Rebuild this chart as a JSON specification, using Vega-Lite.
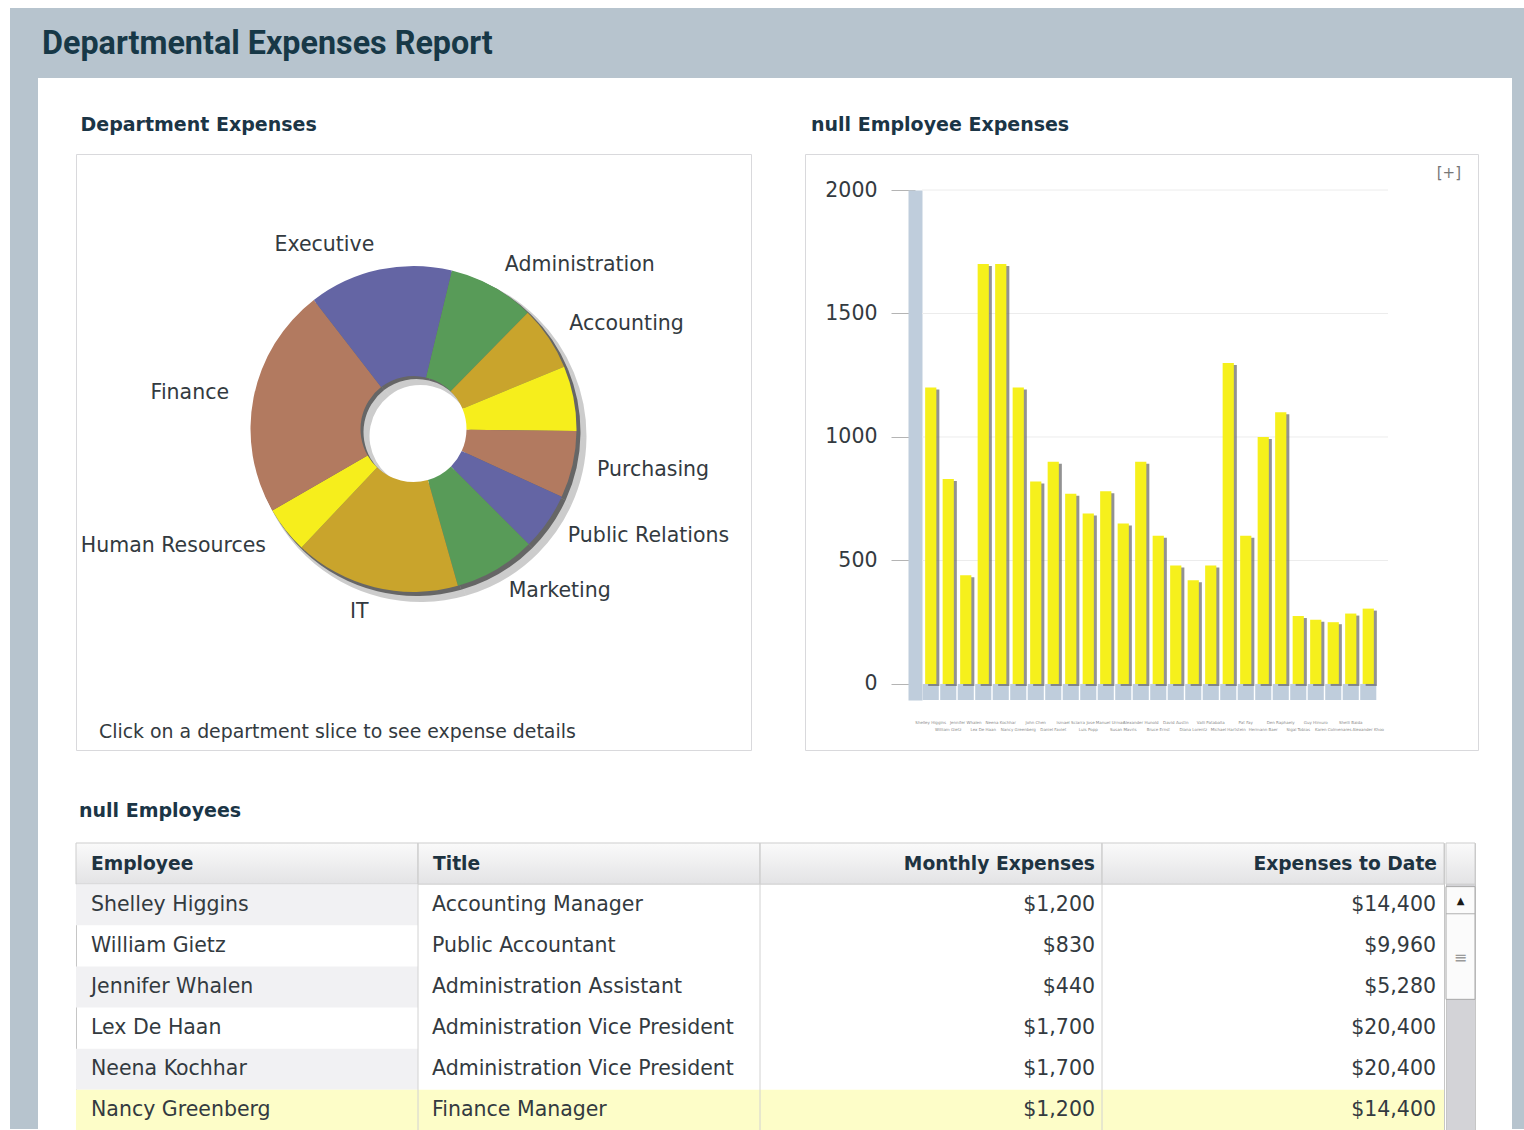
{
  "$schema": "https://vega.github.io/schema/vega-lite/v6.json",
  "usermeta": {"embedOptions": {"actions": false}},
  "background": "#ffffff",
  "padding": {"left": 10, "top": 8, "right": 0, "bottom": 0},
  "config": {"view": {"stroke": null}, "font": "DejaVu Sans"},
  "datasets": {
    "depts": [
      {"seq": 1, "dept": "Administration", "share": 30.9},
      {"seq": 2, "dept": "Accounting", "share": 23.0},
      {"seq": 3, "dept": "", "share": 23.2},
      {"seq": 4, "dept": "Purchasing", "share": 23.9},
      {"seq": 5, "dept": "Public Relations", "share": 20.4},
      {"seq": 6, "dept": "Marketing", "share": 29.2},
      {"seq": 7, "dept": "IT", "share": 59.2},
      {"seq": 8, "dept": "Human Resources", "share": 16.6},
      {"seq": 9, "dept": "Finance", "share": 82.3},
      {"seq": 10, "dept": "Executive", "share": 51.3}
    ],
    "emps": [
      {"emp": "Shelley Higgins", "title": "Accounting Manager", "monthly": 1200, "todate": 14400},
      {"emp": "William Gietz", "title": "Public Accountant", "monthly": 830, "todate": 9960},
      {"emp": "Jennifer Whalen", "title": "Administration Assistant", "monthly": 440, "todate": 5280},
      {"emp": "Lex De Haan", "title": "Administration Vice President", "monthly": 1700, "todate": 20400},
      {"emp": "Neena Kochhar", "title": "Administration Vice President", "monthly": 1700, "todate": 20400},
      {"emp": "Nancy Greenberg", "title": "Finance Manager", "monthly": 1200, "todate": 14400},
      {"emp": "John Chen", "title": "Accountant", "monthly": 820, "todate": 9840},
      {"emp": "Daniel Faviet", "title": "Accountant", "monthly": 900, "todate": 10800},
      {"emp": "Ismael Sciarra", "title": "Accountant", "monthly": 770, "todate": 9240},
      {"emp": "Luis Popp", "title": "Accountant", "monthly": 690, "todate": 8280},
      {"emp": "Jose Manuel Urman", "title": "Accountant", "monthly": 780, "todate": 9360},
      {"emp": "Susan Mavris", "title": "Human Resources Representative", "monthly": 650, "todate": 7800},
      {"emp": "Alexander Hunold", "title": "Programmer", "monthly": 900, "todate": 10800},
      {"emp": "Bruce Ernst", "title": "Programmer", "monthly": 600, "todate": 7200},
      {"emp": "David Austin", "title": "Programmer", "monthly": 480, "todate": 5760},
      {"emp": "Diana Lorentz", "title": "Programmer", "monthly": 420, "todate": 5040},
      {"emp": "Valli Pataballa", "title": "Programmer", "monthly": 480, "todate": 5760},
      {"emp": "Michael Hartstein", "title": "Marketing Manager", "monthly": 1300, "todate": 15600},
      {"emp": "Pat Fay", "title": "Marketing Representative", "monthly": 600, "todate": 7200},
      {"emp": "Hermann Baer", "title": "Public Relations Representative", "monthly": 1000, "todate": 12000},
      {"emp": "Den Raphaely", "title": "Purchasing Manager", "monthly": 1100, "todate": 13200},
      {"emp": "Sigal Tobias", "title": "Purchasing Clerk", "monthly": 275, "todate": 3300},
      {"emp": "Guy Himuro", "title": "Purchasing Clerk", "monthly": 260, "todate": 3120},
      {"emp": "Karen Colmenares", "title": "Purchasing Clerk", "monthly": 250, "todate": 3000},
      {"emp": "Shelli Baida", "title": "Purchasing Clerk", "monthly": 285, "todate": 3420},
      {"emp": "Alexander Khoo", "title": "Purchasing Clerk", "monthly": 305, "todate": 3660}
    ]
  },
  "spacing": 0,
  "hconcat": [
    {
      "width": 28, "height": 1121,
      "data": {"values": []},
      "mark": "rect",
      "view": {"fill": "#b7c4ce", "stroke": null}
    },
    {
      "spacing": 37,
      "vconcat": [
        {
          "width": 1474, "height": 70,
          "data": {"values": []},
          "mark": "rect",
          "view": {"fill": "#b7c4ce", "stroke": null},
          "title": {"text": "Departmental Expenses Report", "orient": "top", "anchor": "start", "frame": "group", "offset": -78, "dx": 4, "baseline": "alphabetic", "font": "Roboto", "fontSize": 32.3, "fontWeight": "bold", "color": "#173847"}
        },
        {
          "spacing": 0,
          "hconcat": [
            {
              "width": 37, "height": 1,
              "data": {"values": []},
              "mark": "rect"
            },
            {
              "spacing": 51,
              "vconcat": [
                {
                  "spacing": 52,
                  "hconcat": [
                    {
                      "title": {"text": "Department Expenses", "anchor": "start", "dx": 5, "offset": 19, "font": "DejaVu Sans", "fontSize": 19, "fontWeight": "bold", "color": "#1b3546"},
                      "vconcat": [
                        {
                          "width": 675, "height": 596,
                          "view": {"stroke": "#d9d9dc", "fill": "#ffffff"},
                          "data": {"name": "depts"},
                          "title": {"text": "Click on a department slice to see expense details", "orient": "bottom", "anchor": "start", "dx": 23, "offset": -27, "font": "DejaVu Sans", "fontSize": 18.9, "fontWeight": "normal", "color": "#333a40"},
                          "encoding": {
                            "theta": {"field": "share", "type": "quantitative", "stack": true, "scale": {"range": [0.2374, 6.5206]}},
                            "order": {"field": "seq", "type": "quantitative"}
                          },
                          "layer": [
                            {
                              "mark": {"type": "arc", "outerRadius": 166, "innerRadius": 51, "color": "#000000", "opacity": 0.2, "xOffset": 7, "yOffset": -16}
                            },
                            {
                              "mark": {"type": "arc", "outerRadius": 164, "innerRadius": 53, "color": "#000000", "opacity": 0.5, "xOffset": 3, "yOffset": -20}
                            },
                            {
                              "mark": {"type": "arc", "outerRadius": 163, "innerRadius": 53, "yOffset": -23},
                              "encoding": {
                                "color": {"field": "dept", "type": "nominal", "legend": null,
                                  "scale": {"domain": ["Administration", "Accounting", "", "Purchasing", "Public Relations", "Marketing", "IT", "Human Resources", "Finance", "Executive"],
                                            "range": ["#589b58", "#c9a42c", "#f6ee1c", "#b27a60", "#6465a4", "#589b58", "#c9a42c", "#f6ee1c", "#b27a60", "#6465a4"]}}
                              }
                            },
                            {
                              "mark": {"type": "text", "radius": 188, "yOffset": -23, "align": "left", "baseline": "middle", "font": "DejaVu Sans", "fontSize": 20.5, "color": "#333a40"},
                              "encoding": {
                                "text": {"condition": {"test": "indexof(['Administration','Accounting','Purchasing','Public Relations','Marketing'], datum.dept) >= 0", "field": "dept"}, "value": ""}
                              }
                            },
                            {
                              "mark": {"type": "text", "radius": 188, "yOffset": -23, "align": "right", "baseline": "middle", "font": "DejaVu Sans", "fontSize": 20.5, "color": "#333a40"},
                              "encoding": {
                                "text": {"condition": {"test": "indexof(['IT','Human Resources','Finance','Executive'], datum.dept) >= 0", "field": "dept"}, "value": ""}
                              }
                            }
                          ]
                        }
                      ]
                    },
                    {
                      "width": 673, "height": 596,
                      "view": {"stroke": "#d9d9dc", "fill": "#ffffff"},
                      "data": {"name": "emps"},
                      "title": {"text": "null Employee Expenses", "anchor": "start", "dx": 6, "offset": 19, "font": "DejaVu Sans", "fontSize": 19, "fontWeight": "bold", "color": "#1b3546"},
                      "encoding": {
                        "x": {"field": "emp", "type": "nominal", "sort": null,
                              "scale": {"domain": ["Shelley Higgins", "William Gietz", "Jennifer Whalen", "Lex De Haan", "Neena Kochhar", "Nancy Greenberg", "John Chen", "Daniel Faviet", "Ismael Sciarra", "Luis Popp", "Jose Manuel Urman", "Susan Mavris", "Alexander Hunold", "Bruce Ernst", "David Austin", "Diana Lorentz", "Valli Pataballa", "Michael Hartstein", "Pat Fay", "Hermann Baer", "Den Raphaely", "Sigal Tobias", "Guy Himuro", "Karen Colmenares", "Shelli Baida", "Alexander Khoo"],
                                        "range": [117, 572], "paddingInner": 0, "paddingOuter": 0},
                              "axis": {"title": null, "ticks": false, "domain": false, "offset": -32, "labelAngle": 0, "labelFontSize": 4, "labelColor": "#8a8a8a", "labelOverlap": false,
                                       "labelPadding": {"condition": {"test": "round(datum.index * 25) % 2 == 1", "value": 9}, "value": 2}}}
                      },
                      "layer": [
                        {
                          "data": {"values": [{"v": 500}, {"v": 1000}, {"v": 1500}, {"v": 2000}]},
                          "mark": {"type": "rule", "color": "#ececec", "x2Offset": 11},
                          "encoding": {
                            "x": {"datum": "Shelley Higgins", "bandPosition": 0},
                            "x2": {"datum": "Alexander Khoo", "bandPosition": 1},
                            "y": {"field": "v", "type": "quantitative", "scale": {"domain": [-65, 2000], "range": [546, 36], "nice": false, "zero": false},
                                  "axis": {"title": null, "values": [0, 500, 1000, 1500, 2000], "format": "d", "offset": -110, "domainColor": "#bfcddc", "domainWidth": 14, "tickSize": 24, "tickColor": "#b4b4b4", "labelPadding": 14, "labelFont": "DejaVu Sans", "labelFontSize": 20.5, "labelColor": "#333a40", "grid": false}}
                          }
                        },
                        {
                          "mark": {"type": "bar", "width": {"band": 0.92}, "color": "#bfcddc"},
                          "encoding": {
                            "y": {"datum": 0, "type": "quantitative", "scale": {"domain": [-65, 2000], "range": [546, 36], "nice": false, "zero": false},
                                  "axis": {"title": null, "values": [0, 500, 1000, 1500, 2000], "format": "d", "offset": -110, "domainColor": "#bfcddc", "domainWidth": 14, "tickSize": 24, "tickColor": "#b4b4b4", "labelPadding": 14, "labelFont": "DejaVu Sans", "labelFontSize": 20.5, "labelColor": "#333a40", "grid": false}},
                            "y2": {"datum": -65}
                          }
                        },
                        {
                          "mark": {"type": "bar", "width": {"band": 0.64}, "color": "#6e6e6e", "opacity": 0.75, "xOffset": 3, "yOffset": 2},
                          "encoding": {
                            "y": {"field": "monthly", "type": "quantitative", "scale": {"domain": [-65, 2000], "range": [546, 36], "nice": false, "zero": false},
                                  "axis": {"title": null, "values": [0, 500, 1000, 1500, 2000], "format": "d", "offset": -110, "domainColor": "#bfcddc", "domainWidth": 14, "tickSize": 24, "tickColor": "#b4b4b4", "labelPadding": 14, "labelFont": "DejaVu Sans", "labelFontSize": 20.5, "labelColor": "#333a40", "grid": false}}
                          }
                        },
                        {
                          "mark": {"type": "bar", "width": {"band": 0.64}, "color": "#f6f01c"},
                          "encoding": {
                            "y": {"field": "monthly", "type": "quantitative", "scale": {"domain": [-65, 2000], "range": [546, 36], "nice": false, "zero": false},
                                  "axis": {"title": null, "values": [0, 500, 1000, 1500, 2000], "format": "d", "offset": -110, "domainColor": "#bfcddc", "domainWidth": 14, "tickSize": 24, "tickColor": "#b4b4b4", "labelPadding": 14, "labelFont": "DejaVu Sans", "labelFontSize": 20.5, "labelColor": "#333a40", "grid": false}}
                          }
                        },
                        {
                          "data": {"values": [{"t": "[+]"}]},
                          "mark": {"type": "text", "align": "right", "baseline": "middle", "dx": -17, "font": "DejaVu Sans", "fontSize": 15, "color": "#777777"},
                          "encoding": {
                            "x": {"value": "width"},
                            "y": {"datum": 2070, "type": "quantitative"},
                            "text": {"field": "t"}
                          }
                        }
                      ]
                    }
                  ]
                },
                {
                  "title": {"text": "null Employees", "anchor": "start", "dx": 4, "offset": 21, "font": "DejaVu Sans", "fontSize": 19, "fontWeight": "bold", "color": "#1b3546"},
                  "spacing": 0,
                  "hconcat": [
                    {
                      "width": 1368, "height": 288,
                      "view": {"stroke": "#c6c6c6", "fill": "#ffffff"},
                      "data": {"name": "emps"},
                      "transform": [{"filter": {"field": "emp", "oneOf": ["Shelley Higgins", "William Gietz", "Jennifer Whalen", "Lex De Haan", "Neena Kochhar", "Nancy Greenberg"]}}],
                      "layer": [
                        {
                          "data": {"values": [{"col": "Employee"}, {"col": "Title"}, {"col": "Monthly Expenses"}, {"col": "Expenses to Date"}]},
                          "mark": {"type": "rect", "stroke": "#cdcdcd", "fill": {"gradient": "linear", "x1": 0, "y1": 0, "x2": 0, "y2": 1, "stops": [{"offset": 0, "color": "#fafafa"}, {"offset": 1, "color": "#e3e3e5"}]}},
                          "encoding": {
                            "x": {"field": "col", "type": "nominal", "axis": null, "scale": {"type": "band", "domain": ["Employee", "Title", "Monthly Expenses", "Expenses to Date"], "paddingInner": 0, "paddingOuter": 0}},
                            "y": {"datum": "header", "type": "nominal", "axis": null, "scale": {"type": "band", "domain": ["header", "Shelley Higgins", "William Gietz", "Jennifer Whalen", "Lex De Haan", "Neena Kochhar", "Nancy Greenberg"], "paddingInner": 0, "paddingOuter": 0}}
                          }
                        },
                        {
                          "transform": [{"filter": {"field": "emp", "oneOf": ["Shelley Higgins", "Jennifer Whalen", "Neena Kochhar"]}}],
                          "mark": {"type": "rect", "color": "#f1f1f3"},
                          "encoding": {
                            "x": {"datum": "Employee", "type": "nominal", "axis": null},
                            "y": {"field": "emp", "type": "nominal", "axis": null}
                          }
                        },
                        {
                          "transform": [{"filter": {"field": "emp", "equal": "Nancy Greenberg"}}],
                          "mark": {"type": "rect", "color": "#fdfdc8"},
                          "encoding": {
                            "y": {"field": "emp", "type": "nominal", "axis": null}
                          }
                        },
                        {
                          "data": {"values": [{"col": "Title"}, {"col": "Monthly Expenses"}, {"col": "Expenses to Date"}]},
                          "mark": {"type": "rule", "color": "#d2d2d2"},
                          "encoding": {
                            "x": {"field": "col", "type": "nominal", "bandPosition": 0, "axis": null}
                          }
                        },
                        {
                          "data": {"values": [{"col": "Employee"}, {"col": "Title"}]},
                          "mark": {"type": "text", "align": "left", "baseline": "middle", "dx": 15, "font": "DejaVu Sans", "fontSize": 18.7, "fontWeight": "bold", "color": "#1e3341"},
                          "encoding": {
                            "x": {"field": "col", "type": "nominal", "bandPosition": 0, "axis": null},
                            "y": {"datum": "header", "type": "nominal", "axis": null},
                            "text": {"field": "col"}
                          }
                        },
                        {
                          "data": {"values": [{"col": "Monthly Expenses"}, {"col": "Expenses to Date"}]},
                          "mark": {"type": "text", "align": "right", "baseline": "middle", "dx": -7, "font": "DejaVu Sans", "fontSize": 18.7, "fontWeight": "bold", "color": "#1e3341"},
                          "encoding": {
                            "x": {"field": "col", "type": "nominal", "bandPosition": 1, "axis": null},
                            "y": {"datum": "header", "type": "nominal", "axis": null},
                            "text": {"field": "col"}
                          }
                        },
                        {
                          "mark": {"type": "text", "align": "left", "baseline": "middle", "dx": 15, "font": "DejaVu Sans", "fontSize": 20.5, "color": "#333a40"},
                          "encoding": {
                            "x": {"datum": "Employee", "type": "nominal", "bandPosition": 0, "axis": null},
                            "y": {"field": "emp", "type": "nominal", "axis": null},
                            "text": {"field": "emp"}
                          }
                        },
                        {
                          "mark": {"type": "text", "align": "left", "baseline": "middle", "dx": 14, "font": "DejaVu Sans", "fontSize": 20.5, "color": "#333a40"},
                          "encoding": {
                            "x": {"datum": "Title", "type": "nominal", "bandPosition": 0, "axis": null},
                            "y": {"field": "emp", "type": "nominal", "axis": null},
                            "text": {"field": "title"}
                          }
                        },
                        {
                          "mark": {"type": "text", "align": "right", "baseline": "middle", "dx": -7, "font": "DejaVu Sans", "fontSize": 20.5, "color": "#333a40"},
                          "encoding": {
                            "x": {"datum": "Monthly Expenses", "type": "nominal", "bandPosition": 1, "axis": null},
                            "y": {"field": "emp", "type": "nominal", "axis": null},
                            "text": {"field": "monthly", "type": "quantitative", "format": "$,.0f"}
                          }
                        },
                        {
                          "mark": {"type": "text", "align": "right", "baseline": "middle", "dx": -8, "font": "DejaVu Sans", "fontSize": 20.5, "color": "#333a40"},
                          "encoding": {
                            "x": {"datum": "Expenses to Date", "type": "nominal", "bandPosition": 1, "axis": null},
                            "y": {"field": "emp", "type": "nominal", "axis": null},
                            "text": {"field": "todate", "type": "quantitative", "format": "$,.0f"}
                          }
                        }
                      ]
                    },
                    {
                      "width": 29, "height": 288,
                      "view": {"stroke": "#c6c6c6", "fill": "#d3d3d7"},
                      "data": {"values": [{"part": "scroll"}]},
                      "layer": [
                        {
                          "mark": {"type": "rect", "stroke": "#cdcdcd", "fill": {"gradient": "linear", "x1": 0, "y1": 0, "x2": 0, "y2": 1, "stops": [{"offset": 0, "color": "#fafafa"}, {"offset": 1, "color": "#e3e3e5"}]}},
                          "encoding": {
                            "y": {"datum": "header", "type": "nominal", "axis": null, "scale": {"type": "band", "domain": ["header", "r1", "r2", "r3", "r4", "r5", "r6"], "paddingInner": 0, "paddingOuter": 0}}
                          }
                        },
                        {
                          "mark": {"type": "rect", "color": "#fbfbfb", "stroke": "#a9a9a9"},
                          "encoding": {
                            "y": {"datum": "r1", "type": "nominal", "bandPosition": 0.06, "axis": null},
                            "y2": {"datum": "r3", "bandPosition": 0.8}
                          }
                        },
                        {
                          "mark": {"type": "rule", "color": "#b0b0b0"},
                          "encoding": {
                            "y": {"datum": "r1", "type": "nominal", "bandPosition": 0.72, "axis": null}
                          }
                        },
                        {
                          "mark": {"type": "text", "text": "▲", "fontSize": 10, "color": "#1a1a1a", "baseline": "middle"},
                          "encoding": {
                            "y": {"datum": "r1", "type": "nominal", "bandPosition": 0.4, "axis": null}
                          }
                        },
                        {
                          "mark": {"type": "text", "text": "≡", "fontSize": 16, "color": "#9a9a9a", "baseline": "middle"},
                          "encoding": {
                            "y": {"datum": "r2", "type": "nominal", "bandPosition": 0.8, "axis": null}
                          }
                        }
                      ]
                    }
                  ]
                }
              ]
            }
          ]
        }
      ]
    },
    {
      "width": 12, "height": 1121,
      "data": {"values": []},
      "mark": "rect",
      "view": {"fill": "#b7c4ce", "stroke": null}
    }
  ]
}
